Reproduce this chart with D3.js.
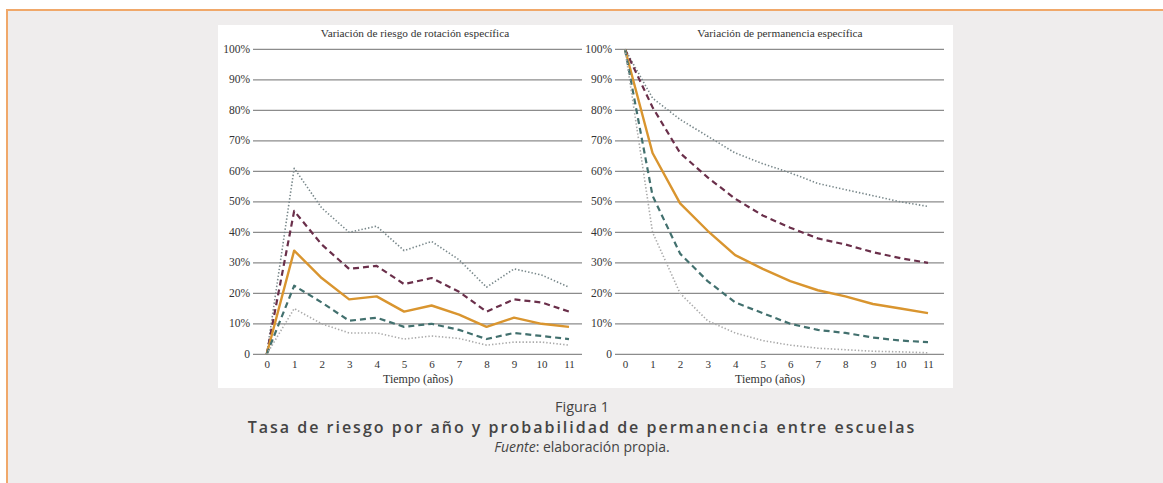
<!DOCTYPE html>
<html><head><meta charset="utf-8">
<script src="https://cdn.jsdelivr.net/npm/d3@7"></script>
<style>
html,body{margin:0;padding:0;background:#fff;}
svg{display:block;}
</style></head><body>
<svg id="c" width="1163" height="483"></svg>
<script>
const years = [0,1,2,3,4,5,6,7,8,9,10,11];
const yTicks = [0,10,20,30,40,50,60,70,80,90,100];
const yTickLabels = ["0","10%","20%","30%","40%","50%","60%","70%","80%","90%","100%"];
const leftTitle = "Variación de riesgo de rotación específica";
const rightTitle = "Variación de permanencia específica";
const xAxisTitle = "Tiempo (años)";
const captionNumber = "Figura 1";
const captionTitle = "Tasa de riesgo por año y probabilidad de permanencia entre escuelas";
const captionSourceLabel = "Fuente";
const captionSourceText = ": elaboración propia.";

// Hazard rates (left panel), %
const hazardHigh    = [0,61,48,40,42,34,37,31,22,28,26,22];
const hazardUpper   = [0,47,36,28,29,23,25,20.5,14,18,17,14];
const hazardMean    = [0,34,25,18,19,14,16,13,9,12,10,9];
const hazardLower   = [0,22.5,17,11,12,9,10,8,5,7,6,5];
const hazardLow     = [0,15,10,7,7,5,6,5.2,3,4,4,3];

// Survival (right panel), %
const survHigh  = [100,84,77,71.5,66,62.5,59.5,56,54,52,50,48.5];
const survUpper = [100,81,66,58,51,45.5,41.5,38,36,33.5,31.5,30];
const survMean  = [100,66,49.5,40.5,32.5,28,24,21,19,16.5,15,13.5];
const survLower = [100,52,33,24,17,13.5,10,8,7,5.5,4.5,4];
const survLow   = [100,40,20,11,7,4.5,3,2,1.5,1,0.8,0.5];

const styles = [
  {color:"#78878a", width:1.6, dash:"1.4,2"},
  {color:"#6a2f4a", width:2.2, dash:"6,4"},
  {color:"#d9952f", width:2.4, dash:null},
  {color:"#42706e", width:2.2, dash:"6,4"},
  {color:"#aaaaaa", width:1.6, dash:"1.4,2"}
];

const svg = d3.select("#c");
svg.append("rect").attr("x",0).attr("y",0).attr("width",1163).attr("height",483).attr("fill","#ffffff");
svg.append("rect").attr("x",7).attr("y",10).attr("width",1160).attr("height",480)
  .attr("fill","#efeded").attr("stroke","#f0a86a").attr("stroke-width",2);
svg.append("rect").attr("x",218).attr("y",25).attr("width",735).attr("height",363).attr("fill","#ffffff");

const serif = "'Liberation Serif','DejaVu Serif',serif";

function panel(opts){
  const x = d3.scaleLinear().domain([0,11]).range([opts.x0, opts.x1]);
  const y = d3.scaleLinear().domain([0,100]).range([354.3, 49.3]);
  const g = svg.append("g");
  g.selectAll("line.grid").data(yTicks).join("line")
    .attr("x1",opts.g0).attr("x2",opts.g1)
    .attr("y1",d=>y(d)).attr("y2",d=>y(d))
    .attr("stroke","#8c8c8c").attr("stroke-width",1.3);
  g.selectAll("text.yl").data(yTicks).join("text")
    .attr("x",opts.g0-3).attr("y",d=>y(d)+3.5)
    .attr("text-anchor","end").attr("font-family",serif).attr("font-size",11.5)
    .attr("fill","#333").text((d,i)=>yTickLabels[i]);
  const ax = g.append("g").attr("transform","translate(0,355)")
    .call(d3.axisBottom(x).tickValues(years).tickSize(0).tickPadding(5).tickFormat(d3.format("d")));
  ax.select(".domain").remove();
  ax.selectAll("text").attr("font-family",serif).attr("font-size",11).attr("fill","#333");
  g.append("text").attr("x",opts.tx).attr("y",37).attr("text-anchor","middle")
    .attr("font-family",serif).attr("font-size",11.3).attr("fill","#333").text(opts.title);
  g.append("text").attr("x",opts.ax).attr("y",383).attr("text-anchor","middle")
    .attr("font-family",serif).attr("font-size",12).attr("fill","#333").text(xAxisTitle);
  const line = d3.line().x((d,i)=>x(years[i])).y(d=>y(d));
  opts.series.forEach((s,i)=>{
    const st = styles[i];
    g.append("path").attr("d",line(s)).attr("fill","none")
      .attr("stroke",st.color).attr("stroke-width",st.width)
      .attr("stroke-dasharray",st.dash).attr("stroke-linejoin","round");
  });
}

panel({x0:266.7,x1:569,g0:253,g1:582,tx:415,ax:418,title:leftTitle,
  series:[hazardHigh,hazardUpper,hazardMean,hazardLower,hazardLow]});
panel({x0:625,x1:928,g0:615,g1:944,tx:780,ax:770,title:rightTitle,
  series:[survHigh,survUpper,survMean,survLower,survLow]});

const sans = "'Open Sans','Noto Sans',sans-serif";
svg.append("text").attr("x",582).attr("y",412).attr("text-anchor","middle")
  .attr("font-family",sans).attr("font-size",14.5).attr("fill","#444").text(captionNumber);
svg.append("text").attr("x",582).attr("y",433).attr("text-anchor","middle")
  .attr("font-family",sans).attr("font-size",16).attr("font-weight",600).attr("letter-spacing",2)
  .attr("fill","#444").text(captionTitle);
const src = svg.append("text").attr("x",582).attr("y",452).attr("text-anchor","middle")
  .attr("font-family",sans).attr("font-size",14).attr("fill","#444");
src.append("tspan").attr("font-style","italic").text(captionSourceLabel);
src.append("tspan").text(captionSourceText);
</script>
</body></html>
